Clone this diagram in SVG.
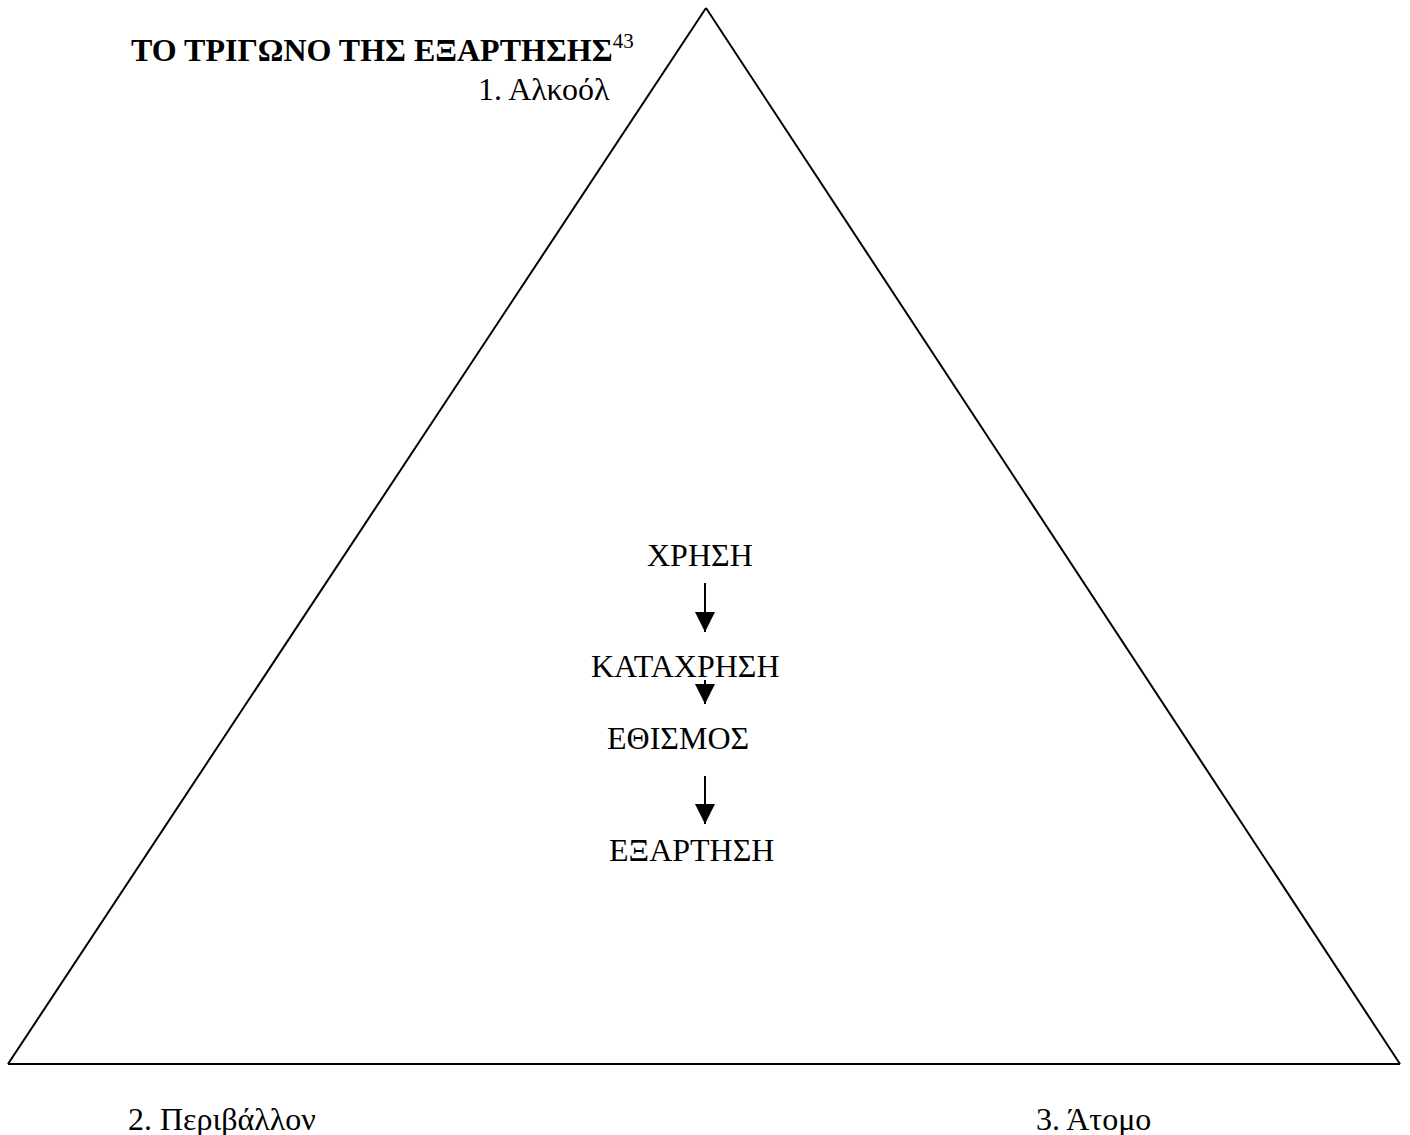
<svg xmlns="http://www.w3.org/2000/svg" width="1410" height="1135" viewBox="0 0 1410 1135">
<style>
text { font-family: "Liberation Serif", "Times New Roman", serif; fill: #000; font-size: 32px; }
.title { font-weight: bold; }
.sup { font-size: 21px; font-weight: normal; }
.edge { stroke: #000; stroke-width: 2; fill: none; }
.side { stroke: #000; stroke-width: 2; fill: none; }
</style>
<defs>
<marker id="ah" markerWidth="20" markerHeight="20" refX="20" refY="10" orient="auto" markerUnits="userSpaceOnUse" viewBox="0 0 20 20">
<path d="M0,0 L20,10 L0,20 Z" fill="#000"/>
</marker>
</defs>
<rect width="1410" height="1135" fill="#fff"/>
<g id="triangle">
<line class="side" x1="706" y1="8" x2="8" y2="1064"/>
<line class="side" x1="706" y1="8" x2="1400" y2="1064"/>
<line class="side" x1="8" y1="1064" x2="1400" y2="1064" stroke-width="3"/>
</g>
<g id="title">
<text class="title" x="131" y="61">ΤΟ ΤΡΙΓΩΝΟ ΤΗΣ ΕΞΑΡΤΗΣΗΣ<tspan class="sup" dy="-13">43</tspan></text>
</g>
<g id="alcohol"><text x="478" y="100">1. Αλκοόλ</text></g>
<g id="environment"><text x="128" y="1130">2. Περιβάλλον</text></g>
<g id="person"><text x="1036" y="1130">3. Άτομο</text></g>
<g id="xrisi"><text x="647" y="566">ΧΡΗΣΗ</text></g>
<g id="katachrisi"><text x="591" y="677">ΚΑΤΑΧΡΗΣΗ</text></g>
<g id="ethismos"><text x="607" y="749">ΕΘΙΣΜΟΣ</text></g>
<g id="exartisi"><text x="609" y="861">ΕΞΑΡΤΗΣΗ</text></g>
<g id="connectors">
<line class="edge" x1="705" y1="583" x2="705" y2="632" marker-end="url(#ah)"/>
<line class="edge" x1="705" y1="680" x2="705" y2="704" marker-end="url(#ah)"/>
<line class="edge" x1="705" y1="776" x2="705" y2="824" marker-end="url(#ah)"/>
</g>
</svg>
